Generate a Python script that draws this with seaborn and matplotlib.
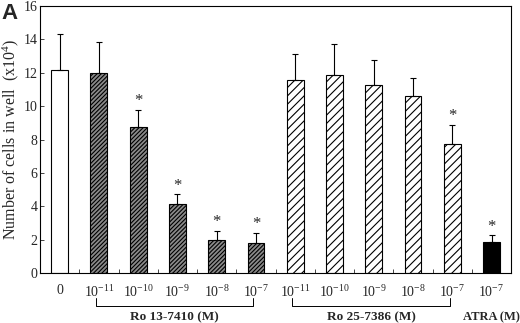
import matplotlib
matplotlib.use("Agg")
import matplotlib.pyplot as plt
import seaborn as sns
import numpy as np
import pandas as pd

categories = ["0", "a-11", "a-10", "a-9", "a-8", "a-7",
              "b-11", "b-10", "b-9", "b-8", "b-7", "c-7"]
tick_labels = ["0", r"10$^{-11}$", r"10$^{-10}$", r"10$^{-9}$", r"10$^{-8}$", r"10$^{-7}$",
               r"10$^{-11}$", r"10$^{-10}$", r"10$^{-9}$", r"10$^{-8}$", r"10$^{-7}$", r"10$^{-7}$"]
groups = ["control", "Ro13", "Ro13", "Ro13", "Ro13", "Ro13",
          "Ro25", "Ro25", "Ro25", "Ro25", "Ro25", "ATRA"]
means = [12.2, 12.0, 8.73, 4.13, 1.97, 1.78, 11.57, 11.85, 11.29, 10.59, 7.73, 1.87]
errors = [2.1, 1.85, 1.04, 0.58, 0.55, 0.6, 1.53, 1.85, 1.5, 1.13, 1.13, 0.38]
significant = [False, False, True, True, True, True, False, False, False, False, True, True]
group_labels = ["Ro 13-7410 (M)", "Ro 25-7386 (M)", "ATRA (M)"]

sns.set_theme(style="ticks")
plt.rcParams["font.family"] = ["Liberation Serif", "DejaVu Serif"]
plt.rcParams["mathtext.default"] = "regular"
plt.rcParams["hatch.linewidth"] = 0.8

df = pd.DataFrame({"cat": categories, "mean": means, "group": groups})

fig = plt.figure(figsize=(5.2, 3.23), dpi=100)
ax = fig.add_axes([0.077, 0.155, 0.906, 0.826])

face = {"control": "white", "Ro13": "#8a8a8a", "Ro25": "white", "ATRA": "black"}
hatch = {"control": "", "Ro13": "////////", "Ro25": "////", "ATRA": ""}
sns.barplot(data=df, x="cat", y="mean", order=categories, color="white",
            width=0.43, edgecolor="black", linewidth=0.8, ax=ax, errorbar=None)
for patch, g in zip(ax.patches, groups):
    patch.set_facecolor(face[g])
    patch.set_hatch(hatch[g])
    patch.set_edgecolor("black")

xs = np.arange(len(categories))
ax.errorbar(xs, means, yerr=[np.zeros(len(means)), errors], fmt="none",
            ecolor="black", elinewidth=0.8, capsize=2.5, capthick=0.8)
for x, m, e, s in zip(xs, means, errors, significant):
    if s:
        ax.text(x, m + e + 0.05, "*", ha="center", va="bottom", fontsize=12)

ax.set_xlim(-0.5, 11.5)
ax.set_ylim(0, 16)
ax.set_yticks(np.arange(0, 17, 2))
ax.tick_params(axis="y", direction="in", length=3, labelsize=10, width=0.6, pad=2)
ax.set_xticks(xs)
ax.set_xticklabels(tick_labels, fontsize=10)
ax.tick_params(axis="x", length=0, pad=8)
ax.set_xticks(np.arange(0.5, 11.5, 1), minor=True)
ax.tick_params(axis="x", which="minor", direction="in", length=3, width=0.6)
ax.set_xlabel("")
ax.set_ylabel(r"Number of cells in well  (x10$^{4}$)", fontsize=11.5)
ax.yaxis.set_label_coords(-0.04, 0.5)
for sp in ax.spines.values():
    sp.set_visible(True)
    sp.set_linewidth(0.8)
    sp.set_color("black")

# group brackets
trans = ax.get_xaxis_transform()
def bracket(x0, x1):
    ax.plot([x0, x0, x1, x1], [-0.095, -0.125, -0.125, -0.095], color="black",
            lw=0.7, transform=trans, clip_on=False)
bracket(0.93, 4.93)
bracket(5.93, 9.93)
ax.text(2.93, -0.165, group_labels[0], transform=trans, ha="center", va="center",
        fontsize=9.5, fontweight="bold")
ax.text(7.93, -0.165, group_labels[1], transform=trans, ha="center", va="center",
        fontsize=9.5, fontweight="bold")
ax.text(11.0, -0.165, group_labels[2], transform=trans, ha="center", va="center",
        fontsize=9, fontweight="bold")

fig.text(0.003, 0.99, "A", ha="left", va="top", fontsize=16, fontweight="bold",
         family="Liberation Sans")

fig.savefig("out.png", dpi=100)
